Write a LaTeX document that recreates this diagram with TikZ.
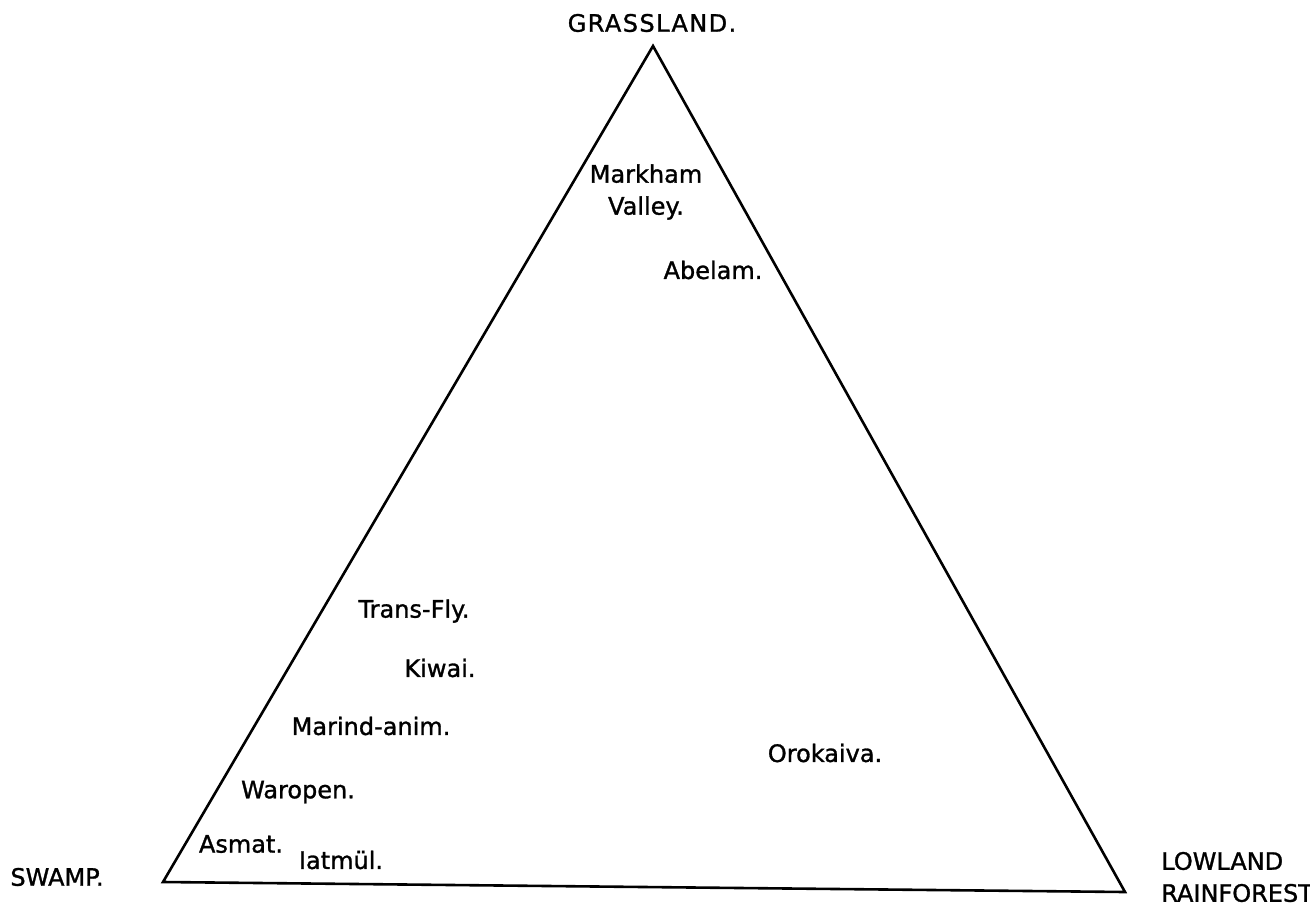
\documentclass[tikz,border=0pt]{standalone}
\usepackage{fontspec}
\setmainfont{DejaVu Sans}
\newfontfamily\labelfont[FakeBold=1.2]{DejaVu Sans}

\begin{document}
\begin{tikzpicture}[x=0.5pt,y=-0.5pt,line width=1.3pt,
    tribe/.style={font=\labelfont\fontsize{12}{16}\selectfont,inner sep=0pt,align=center},
    habitat/.style={tribe,align=left}]
  \useasboundingbox (0,0) rectangle (1310,904);
  % corners of the triangle
  \coordinate (grass) at (653,46);
  \coordinate (swamp) at (163,882);
  \coordinate (forest) at (1125,892);
  \draw[line join=miter] (grass)--(forest)--(swamp)--cycle;

  \node[habitat] (grasslbl) at (652,23)
    {\addfontfeature{LetterSpace=6}GRASSLAND.};
  \node[habitat] (swamplbl) at (57,877) {SWAMP.};
  \node[habitat,anchor=west] (forestlbl) at (1160,877)
    {LOWLAND\\RAINFOREST};

  \node[tribe] (markham) at (646,192) {Markham\\Valley.};
  \node[tribe] (abelam) at (713,270) {Abelam.};
  \node[tribe] (transfly) at (414,611) {Trans-Fly.};
  \node[tribe] (kiwai) at (440,668) {Kiwai.};
  \node[tribe] (marind) at (371,726) {Marind-anim.};
  \node[tribe] (orokaiva) at (825,753) {Orokaiva.};
  \node[tribe] (waropen) at (298,792) {Waropen.};
  \node[tribe] (asmat) at (241,844) {Asmat.};
  \node[tribe] (iatmul) at (341,860) {Iatmül.};
\end{tikzpicture}
\end{document}
